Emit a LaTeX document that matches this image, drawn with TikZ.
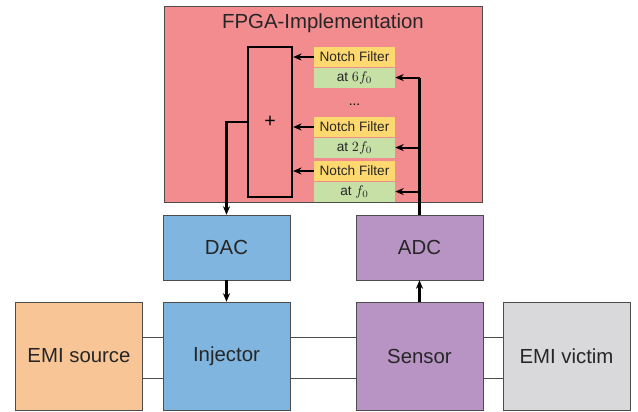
\documentclass[tikz,border=0pt]{standalone}
\usepackage{fontspec}
\setmainfont{Liberation Sans}
\usepackage{xcolor}
\usetikzlibrary{arrows.meta,positioning}

\definecolor{fpgared}{RGB}{242,140,143}
\definecolor{nfyellow}{RGB}{255,217,112}
\definecolor{nfgreen}{RGB}{198,224,166}
\definecolor{convblue}{RGB}{127,181,222}
\definecolor{sensepurple}{RGB}{184,148,196}
\definecolor{srcorange}{RGB}{248,198,150}
\definecolor{victimgray}{RGB}{217,217,219}

\begin{document}
\begin{tikzpicture}[
    block/.style={rectangle, draw=black!70, thin, minimum width=3.175cm, minimum height=1.625cm,
                  inner sep=0pt, text=black!85, font=\fontsize{14.5}{16}\selectfont},
    big/.style={block, minimum height=2.7cm},
    nfhead/.style={rectangle, fill=nfyellow, minimum width=2.025cm, minimum height=0.5cm,
                   inner sep=0pt, text=black!85, font=\fontsize{9.7}{11}\selectfont},
    nfbody/.style={nfhead, fill=nfgreen},
    sig/.style={line width=1.5pt, -{Stealth[length=6pt,width=5pt]}},
    wire/.style={thin, draw=black!70},
    >=Stealth
]
\useasboundingbox (0,0) rectangle (15.95,10.3);

% --- FPGA frame ---
\node[rectangle, fill=fpgared, draw=black!70, minimum width=7.95cm, minimum height=4.9cm,
      inner sep=0pt] (fpga) at (8.075,7.7) {};
\node[font=\fontsize{14.5}{16}\selectfont, text=black!85] (title) at (8.075,9.725) {FPGA-Implementation};

% --- Adder ---
\node[rectangle, draw, line width=1.6pt, minimum width=1.1cm, minimum height=3.75cm,
      inner sep=0pt, font=\fontsize{14}{16}\selectfont] (sum) at (6.75,7.25) {+};

% --- Notch filters ---
\node[nfhead] (f6h) at (8.8625,8.875) {Notch Filter};
\node[nfbody, below=0pt of f6h] (f6b) {at $6f_0$};
\node[font=\fontsize{9.7}{11}\selectfont] (dots) at (8.8625,7.68) {...};
\node[nfhead] (f2h) at (8.8625,7.125) {Notch Filter};
\node[nfbody, below=0pt of f2h] (f2b) {at $2f_0$};
\node[nfhead] (f1h) at (8.8625,6.025) {Notch Filter};
\node[nfbody, below=0pt of f1h] (f1b) {at $f_0$};

% --- Converters ---
\node[block, fill=convblue] (dac) at (5.6625,4.1125) {DAC};
\node[block, fill=sensepurple] (adc) at (10.4875,4.1125) {ADC};

% --- Bottom row ---
\node[big, fill=srcorange] (src) at (1.975,1.4) {EMI source};
\node[big, fill=convblue] (inj) at (5.6625,1.4) {Injector};
\node[big, fill=sensepurple] (sen) at (10.4875,1.4) {Sensor};
\node[big, fill=victimgray] (vic) at (14.1625,1.4) {EMI victim};

% --- Filter outputs into adder ---
\draw[sig] (f6h.west) -- (f6h.west -| sum.east);
\draw[sig] (f2h.west) -- (f2h.west -| sum.east);
\draw[sig] (f1h.west) -- (f1h.west -| sum.east);

% --- ADC feeds the filters ---
\coordinate (tap) at (adc.north |- f6b.east);
\draw[line width=1.5pt] (adc.north) -- (tap);
\draw[sig] (tap) -- (f6b.east);
\draw[sig] (adc.north |- f2b.east) -- (f2b.east);
\draw[sig] (adc.north |- f1b.east) -- (f1b.east);

% --- Adder to DAC, DAC to injector, sensor to ADC ---
\draw[sig] (sum.west) -| (dac.north);
\draw[sig] (dac) -- (inj);
\draw[sig] (sen) -- (adc);

% --- Coupling wires ---
\foreach \a/\b in {src/inj, inj/sen, sen/vic} {
  \draw[wire] ([yshift=0.475cm]\a.east) -- ([yshift=0.475cm]\b.west);
  \draw[wire] ([yshift=-0.55cm]\a.east) -- ([yshift=-0.55cm]\b.west);
}
\end{tikzpicture}
\end{document}
